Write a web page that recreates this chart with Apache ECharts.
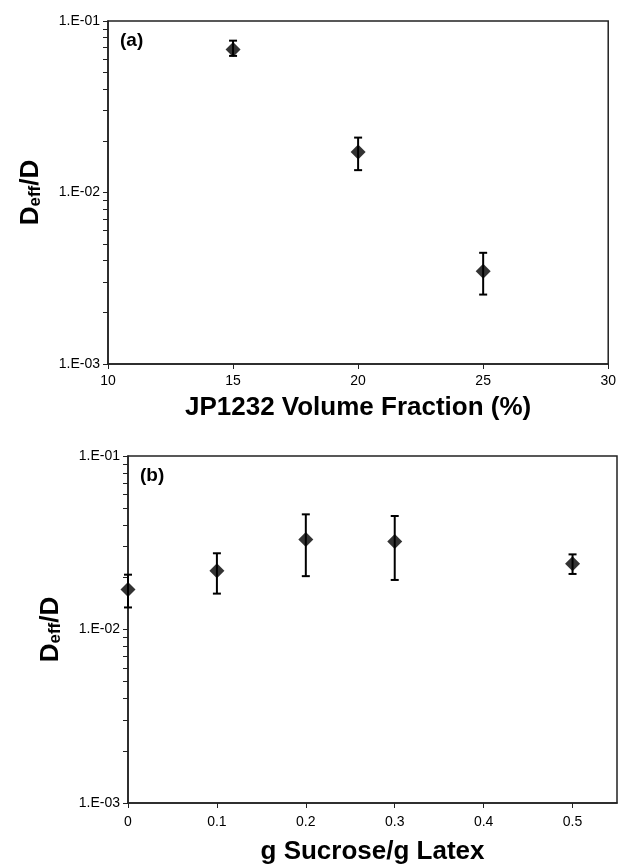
<!DOCTYPE html>
<html>
<head>
<meta charset="utf-8">
<script src="https://cdn.jsdelivr.net/npm/echarts@6/dist/echarts.min.js"></script>
<style>
  html, body { margin: 0; padding: 0; background: #fff; }
  #chart { width: 619px; height: 867px; }
</style>
</head>
<body>
<div id="chart"></div>
<script>
// panel (a): JP1232 volume fraction
const fracX = [15, 20, 25];
const fracY = [0.0682, 0.0172, 0.00347];
const fracLo = [0.0626, 0.0135, 0.00254];
const fracHi = [0.0768, 0.0209, 0.00445];

// panel (b): sucrose / latex ratio
const sucX = [0, 0.1, 0.2, 0.3, 0.5];
const sucY = [0.0170, 0.0218, 0.0330, 0.0322, 0.0239];
const sucLo = [0.0134, 0.0161, 0.0203, 0.0193, 0.0209];
const sucHi = [0.0207, 0.0275, 0.0461, 0.0451, 0.0271];

const fracTicks = [10, 15, 20, 25, 30];
const sucTicks = [0, 0.1, 0.2, 0.3, 0.4, 0.5];
const logTicks = [0.001, 0.002, 0.003, 0.004, 0.005, 0.006, 0.007, 0.008, 0.009,
  0.01, 0.02, 0.03, 0.04, 0.05, 0.06, 0.07, 0.08, 0.09, 0.1];
const logLabels = { '-3': '1.E-03', '-2': '1.E-02', '-1': '1.E-01' };

const chart = echarts.init(document.getElementById('chart'));

const FONT = 'Liberation Sans, Arial, sans-serif';
const axisLine = { show: true, onZero: false, lineStyle: { color: '#222', width: 1.5 } };

function yAxisOf(gridIndex) {
  return {
    type: 'log',
    logBase: 10,
    gridIndex,
    min: 0.001,
    max: 0.1,
    name: '{b|D}{s|eff}{b|/D}',
    nameLocation: 'middle',
    nameGap: 64,
    nameTextStyle: {
      rich: {
        b: { fontFamily: FONT, fontWeight: 'bold', fontSize: 26, color: '#000' },
        s: { fontFamily: FONT, fontWeight: 'bold', fontSize: 17, color: '#000', verticalAlign: 'bottom', padding: [10, 0, 0, 0] }
      }
    },
    axisLine,
    axisTick: { show: true, length: 5, customValues: logTicks, lineStyle: { color: '#222', width: 1 } },
    axisLabel: {
      fontFamily: FONT, fontSize: 14, color: '#000', margin: 8,
      customValues: [0.001, 0.01, 0.1],
      formatter: v => logLabels[String(Math.round(Math.log10(v)))]
    },
    splitLine: { show: false },
    minorTick: { show: false }
  };
}

function xAxisOf(gridIndex, min, max, ticks, name, gap, margin) {
  return {
    type: 'value',
    gridIndex,
    min, max,
    name,
    nameLocation: 'middle',
    nameGap: gap,
    nameTextStyle: { fontFamily: FONT, fontWeight: 'bold', fontSize: 26, color: '#000' },
    axisLine,
    axisTick: { show: true, length: 5, customValues: ticks, lineStyle: { color: '#222', width: 1 } },
    axisLabel: { fontFamily: FONT, fontSize: 14, color: '#000', margin, customValues: ticks },
    splitLine: { show: false }
  };
}

function errorBars(xs, lo, hi, idx) {
  return {
    type: 'custom',
    xAxisIndex: idx,
    yAxisIndex: idx,
    data: xs.map((x, i) => [x, lo[i], hi[i]]),
    encode: { x: 0, y: [1, 2] },
    z: 2,
    renderItem: (params, api) => {
      const top = api.coord([api.value(0), api.value(2)]);
      const bot = api.coord([api.value(0), api.value(1)]);
      const w = 4;
      const style = { stroke: '#000', lineWidth: 2 };
      return {
        type: 'group',
        children: [
          { type: 'line', shape: { x1: top[0], y1: top[1], x2: bot[0], y2: bot[1] }, style },
          { type: 'line', shape: { x1: top[0] - w, y1: top[1], x2: top[0] + w, y2: top[1] }, style },
          { type: 'line', shape: { x1: bot[0] - w, y1: bot[1], x2: bot[0] + w, y2: bot[1] }, style }
        ]
      };
    }
  };
}

function points(xs, ys, idx) {
  return {
    type: 'scatter',
    xAxisIndex: idx,
    yAxisIndex: idx,
    symbol: 'diamond',
    symbolSize: [15, 15],
    itemStyle: { color: '#000' },
    z: 3,
    data: xs.map((x, i) => [x, ys[i]])
  };
}

chart.setOption({
  animation: false,
  backgroundColor: '#fff',
  grid: [
    { left: 108, top: 21, width: 502, height: 343, show: true, borderColor: '#222', borderWidth: 1.5 },
    { left: 128, top: 456, width: 489, height: 347, show: true, borderColor: '#222', borderWidth: 1.5 }
  ],
  xAxis: [
    xAxisOf(0, 10, 30, fracTicks, 'JP1232 Volume Fraction (%)', 31, 10),
    xAxisOf(1, 0, 0.55, sucTicks, 'g Sucrose/g Latex', 36, 12)
  ],
  yAxis: [yAxisOf(0), yAxisOf(1)],
  graphic: [
    { type: 'text', left: 120, top: 31, style: { text: '(a)', font: 'bold 19px ' + FONT, fill: '#000' } },
    { type: 'text', left: 140, top: 466, style: { text: '(b)', font: 'bold 19px ' + FONT, fill: '#000' } }
  ],
  series: [
    errorBars(fracX, fracLo, fracHi, 0),
    points(fracX, fracY, 0),
    errorBars(sucX, sucLo, sucHi, 1),
    points(sucX, sucY, 1)
  ]
});
</script>
</body>
</html>
